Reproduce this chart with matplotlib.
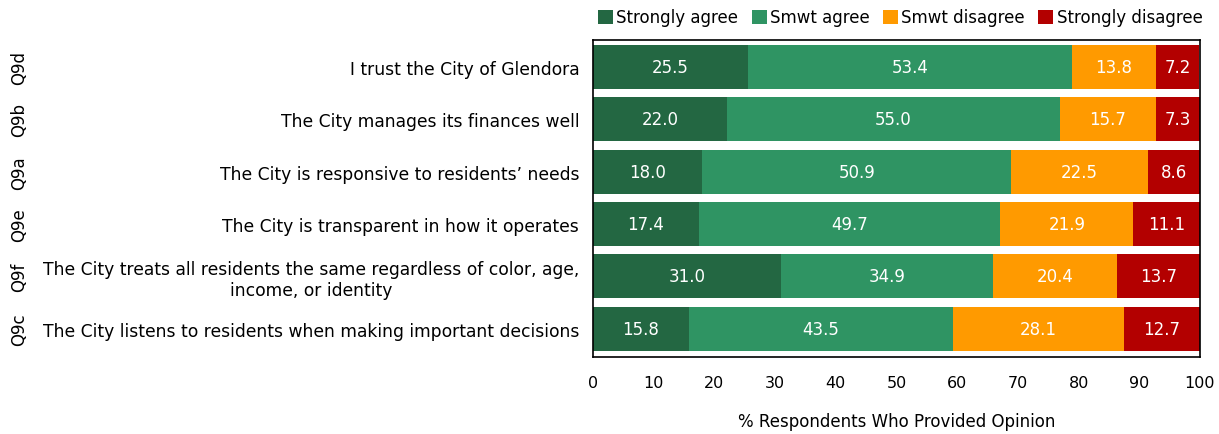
import matplotlib
matplotlib.use("Agg")
import matplotlib.pyplot as plt
import numpy as np

plt.rcParams['font.family'] = ['DejaVu Sans']

codes = ["Q9d", "Q9b", "Q9a", "Q9e", "Q9f", "Q9c"]
statements = [
    "I trust the City of Glendora",
    "The City manages its finances well",
    "The City is responsive to residents\u2019 needs",
    "The City is transparent in how it operates",
    "The City treats all residents the same regardless of color, age,\nincome, or identity",
    "The City listens to residents when making important decisions",
]
series_names = ["Strongly agree", "Smwt agree", "Smwt disagree", "Strongly disagree"]
strongly_agree = [25.5, 22.0, 18.0, 17.4, 31.0, 15.8]
smwt_agree = [53.4, 55.0, 50.9, 49.7, 34.9, 43.5]
smwt_disagree = [13.8, 15.7, 22.5, 21.9, 20.4, 28.1]
strongly_disagree = [7.2, 7.3, 8.6, 11.1, 13.7, 12.7]
x_ticks = [0, 10, 20, 30, 40, 50, 60, 70, 80, 90, 100]

colors = ["#236742", "#2f9463", "#ff9a00", "#b30000"]

fig = plt.figure(figsize=(12.19, 4.35), dpi=100)
ax = fig.add_axes([0.4865, 0.177, 0.4979, 0.729])

y = np.arange(len(codes))
left = np.zeros(len(codes))
for name, vals, col in zip(series_names,
                           [strongly_agree, smwt_agree, smwt_disagree, strongly_disagree],
                           colors):
    vals = np.array(vals)
    ax.barh(y, vals, left=left, height=0.84, color=col, label=name, edgecolor="none")
    for yi, l, v in zip(y, left, vals):
        ax.text(l + v / 2, yi, f"{v:.1f}", ha="center", va="center",
                color="white", fontsize=12)
    left += vals

ax.set_xlim(0, 100)
ax.set_ylim(len(codes) - 0.5 + 0.04, -0.5 - 0.02)
ax.set_xticks(x_ticks)
ax.tick_params(axis="x", length=0, pad=13, labelsize=11.5)
ax.set_yticks(y)
ax.set_yticklabels(statements, fontsize=12.3, ha="right", multialignment="center")
ax.tick_params(axis="y", length=0, pad=10)
for s in ax.spines.values():
    s.set_linewidth(1.2)
    s.set_color("black")
ax.set_xlabel("% Respondents Who Provided Opinion", fontsize=12, labelpad=16)

# question codes along the far left
for yi, code in zip(y, codes):
    yd = ax.transData.transform((0, yi))[1]
    yf = fig.transFigure.inverted().transform((0, yd))[1]
    fig.text(0.016, yf, code, rotation=90, ha="center", va="center", fontsize=12)

fig.legend(loc="upper left", bbox_to_anchor=(0.481, 1.005), ncol=4, frameon=False,
           fontsize=12, handlelength=0.9, handleheight=0.9, handletextpad=0.2,
           columnspacing=0.8, borderaxespad=0.3)

fig.savefig("out.png", dpi=100)
